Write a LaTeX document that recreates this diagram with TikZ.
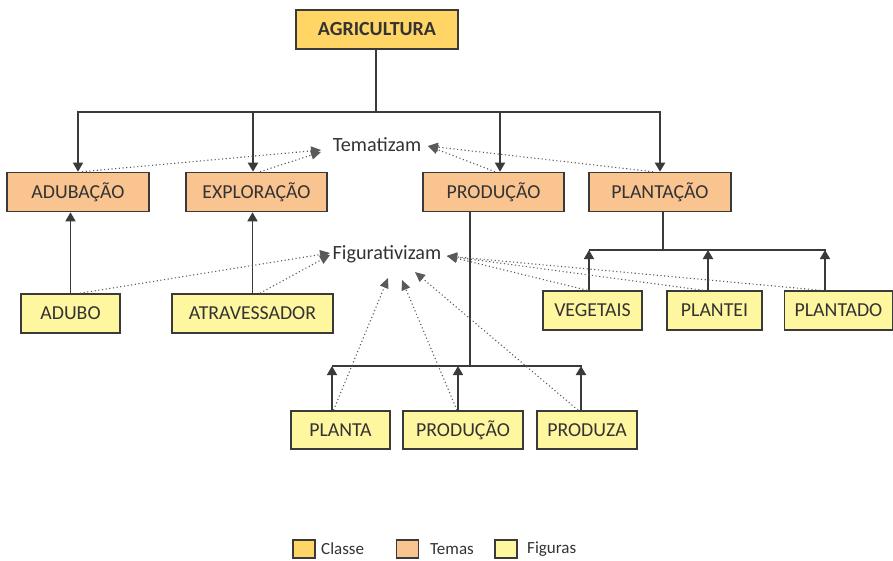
\documentclass[tikz,border=0pt]{standalone}
\usepackage{fontspec}
\setmainfont{Carlito}
\usetikzlibrary{arrows.meta,calc}
\definecolor{ln}{HTML}{3A3A3A}
\definecolor{dt}{HTML}{5A5A5A}
\definecolor{txt}{HTML}{333333}
\definecolor{cclasse}{HTML}{FFD566}
\definecolor{ctemas}{HTML}{FAC491}
\definecolor{cfig}{HTML}{FFF6A0}
\tikzset{
  box/.style={draw=ln, line width=1.6pt, inner sep=0pt, text=txt, minimum height=39pt,
              font=\fontsize{19.8}{21}\selectfont},
  classe/.style={box, fill=cclasse, font=\fontsize{20}{21}\selectfont\bfseries},
  tema/.style={box, fill=ctemas},
  figura/.style={box, fill=cfig},
  lbl/.style={text=txt, inner sep=0pt, font=\fontsize{20.2}{21}\selectfont},
  conn/.style={draw=ln, line width=1.5pt},
  arr/.style={conn, -{Triangle[width=10pt,length=9pt]}},
  thk/.style={line width=2.1pt},
  dots/.style={draw=dt, line width=1.1pt, dash pattern=on 1.1pt off 2.6pt,
               -{Triangle[width=9pt,length=10pt]}},
  leg/.style={draw=ln, line width=1.4pt, minimum width=22pt, minimum height=18pt, inner sep=0pt},
  legt/.style={text=txt, inner sep=0pt, anchor=west, font=\fontsize{17}{18}\selectfont},
}
\begin{document}
\begin{tikzpicture}[x=1pt,y=-1pt]
\fill[white] (0,0) rectangle (893,560);
\useasboundingbox (0,0) rectangle (893,560);

% nodes
\node[classe, minimum width=162pt] (agri) at (377,29.5) {AGRICULTURA};
\node[tema, minimum width=142pt] (adub) at (78,192) {ADUBAÇÃO};
\node[tema, minimum width=141pt] (expl) at (256.5,192) {EXPLORAÇÃO};
\node[tema, minimum width=141pt] (prod) at (493.5,192) {PRODUÇÃO};
\node[tema, minimum width=142pt] (plan) at (660,192) {PLANTAÇÃO};

\node[lbl] (tem) at (377,145) {Tematizam};
\node[lbl] (fig) at (387,254) {Figurativizam};

\node[figura, minimum width=99pt] (adubo) at (70.5,313.5) {ADUBO};
\node[figura, minimum width=161pt] (atrav) at (252.5,313.5) {ATRAVESSADOR};
\node[figura, minimum width=99pt] (veg) at (592.5,310.5) {VEGETAIS};
\node[figura, minimum width=95pt] (plantei) at (714.5,310.5) {PLANTEI};
\node[figura, minimum width=108pt] (plantado) at (838.5,310.5) {PLANTADO};
\node[figura, minimum width=99pt, minimum height=38pt] (planta) at (340.5,430) {PLANTA};
\node[figura, minimum width=120pt, minimum height=38pt] (prod2) at (463,430) {PRODUÇÃO};
\node[figura, minimum width=100pt, minimum height=38pt] (produza) at (587,430) {PRODUZA};

% tree from AGRICULTURA
\coordinate (j1) at (376,112);
\draw[conn] (agri.south -| j1) -- (j1);
\draw[arr] (j1) -| (adub.north);
\draw[arr,thk] (j1) -| ([xshift=-3.5pt]expl.north);
\draw[arr] (j1) -| ([xshift=6.5pt]prod.north);
\draw[arr,thk] (j1) -| (plan.north);

% temas <- figuras (single)
\draw[arr] (adubo.north) -- (adubo.north |- adub.south);
\draw[arr] (atrav.north) -- (atrav.north |- expl.south);

% PRODUCAO fan
\coordinate (j2) at (470,366);
\coordinate (b2l) at (332,366);
\coordinate (b2r) at (582,366);
\draw[conn] ([xshift=-23.5pt]prod.south) -- (j2);
\draw[conn] (b2l) -- (b2r);
\draw[arr] ([xshift=-8.5pt]planta.north) -- ([xshift=-8.5pt]planta.north |- j2);
\draw[arr] ([xshift=-5pt]prod2.north) -- ([xshift=-5pt]prod2.north |- j2);
\draw[arr,thk] ([xshift=-6pt]produza.north) -- ([xshift=-6pt]produza.north |- j2);

% PLANTACAO fan
\coordinate (j3) at (663,250);
\coordinate (b3l) at (589,250);
\coordinate (b3r) at (826,250);
\draw[conn,thk] ([xshift=3pt]plan.south) -- (j3);
\draw[conn] (b3l) -- (b3r);
\draw[arr] ([xshift=-3.5pt]veg.north) -- ([xshift=-3.5pt]veg.north |- j3);
\draw[arr,thk] ([xshift=-6.5pt]plantei.north) -- ([xshift=-6.5pt]plantei.north |- j3);
\draw[arr] ([xshift=-13.5pt]plantado.north) -- ([xshift=-13.5pt]plantado.north |- j3);

% dotted to Tematizam
\coordinate (tl1) at (321,150);
\coordinate (tl2) at (321,152);
\coordinate (tr) at (428,146);
\draw[dots] ([xshift=4pt]adub.north) -- (tl1);
\draw[dots] ([xshift=3.5pt]expl.north) -- (tl2);
\draw[dots] ([xshift=1.5pt]prod.north) -- (tr);
\draw[dots] ([xshift=-7pt]plan.north) -- (tr);

% dotted to Figurativizam
\coordinate (fl1) at (330,253);
\coordinate (fl2) at (330,255);
\coordinate (fr) at (447,256);
\coordinate (fb1) at (388,278);
\coordinate (fb2) at (402,280);
\coordinate (fb3) at (415,272);
\draw[dots] ([xshift=9.5pt]adubo.north) -- (fl1);
\draw[dots] ([xshift=7.5pt]atrav.north) -- (fl2);
\draw[dots] ([xshift=-7pt]planta.north) -- (fb1);
\draw[dots] ([xshift=-6pt]prod2.north) -- (fb2);
\draw[dots] ([xshift=-9pt]produza.north) -- (fb3);
\draw[dots] ([xshift=-5.5pt]veg.north) -- (fr);
\draw[dots] ([xshift=-11.5pt]plantei.north) -- (fr);
\draw[dots] ([xshift=-18.5pt]plantado.north) -- (fr);

% legend
\node[leg, fill=cclasse] (lc) at (304,549) {};
\node[legt] (lct) at (321,549) {Classe};
\node[leg, fill=ctemas] (lt) at (407.5,549) {};
\node[legt] (ltt) at (430,549) {Temas};
\node[leg, fill=cfig] (lf) at (506,549) {};
\node[legt] (lft) at (527,549) {Figuras};
\end{tikzpicture}
\end{document}
